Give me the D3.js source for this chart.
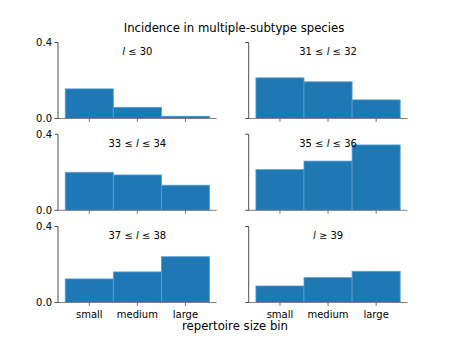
<!DOCTYPE html>
<html lang="en">
<head>
  <meta charset="utf-8">
  <script src="https://d3js.org/d3.v7.min.js"></script>
  <style>
    body { margin: 0; background: #fff; }
    svg text { font-family: "DejaVu Sans", sans-serif; fill: #000; }
    .bar { fill: #1f77b4; stroke: #5b9fd0; stroke-width: 0.8; }
  </style>
</head>
<body>
  <svg id="chart" width="454" height="342"></svg>
  <script>
    var categories = ["small", "medium", "large"];
    var panelTitles = [
      ["", "l", " \u2264 30"],
      ["31 \u2264 ", "l", " \u2264 32"],
      ["33 \u2264 ", "l", " \u2264 34"],
      ["35 \u2264 ", "l", " \u2264 36"],
      ["37 \u2264 ", "l", " \u2264 38"],
      ["", "l", " \u2265 39"]
    ];
    var panelValues = [
      [0.156, 0.059, 0.012],
      [0.214, 0.193, 0.098],
      [0.200, 0.186, 0.132],
      [0.214, 0.259, 0.344],
      [0.124, 0.161, 0.241],
      [0.087, 0.131, 0.164]
    ];
    var yTicks = [0.0, 0.4];

    var svg = d3.select("#chart");

    var colLeft = [58, 248.7], colWidth = 158.7;
    var rowTop = [42.5, 134.3, 226.5], rowHeight = 76;

    var x = d3.scaleLinear().domain([-0.65, 2.65]).range([0, colWidth]);
    var y = d3.scaleLinear().domain([0, 0.4]).range([rowHeight, 0]);

    panelValues.forEach(function(vals, i) {
      var col = i % 2, row = Math.floor(i / 2);
      var g = svg.append("g")
          .attr("transform", "translate(" + colLeft[col] + "," + rowTop[row] + ")");

      g.selectAll("rect")
          .data(vals)
        .enter().append("rect")
          .attr("class", "bar")
          .attr("x", function(d, j) { return x(j - 0.5); })
          .attr("width", x(1) - x(0))
          .attr("y", function(d) { return y(d); })
          .attr("height", function(d) { return y(0) - y(d); });

      // bottom spine + ticks
      g.append("line")
          .attr("x1", 0).attr("x2", colWidth)
          .attr("y1", rowHeight).attr("y2", rowHeight)
          .attr("stroke", "#808080").attr("stroke-width", 1);
      categories.forEach(function(c, j) {
        g.append("line")
            .attr("x1", x(j)).attr("x2", x(j))
            .attr("y1", rowHeight).attr("y2", rowHeight + 3.5)
            .attr("stroke", "#555").attr("stroke-width", 0.8);
        if (row === 2) {
          g.append("text")
              .attr("x", x(j)).attr("y", rowHeight + 15)
              .attr("text-anchor", "middle")
              .attr("font-size", 10)
              .text(c);
        }
      });

      // left spine + ticks
      g.append("line")
          .attr("x1", 0).attr("x2", 0)
          .attr("y1", 0).attr("y2", rowHeight)
          .attr("stroke", "#222").attr("stroke-width", 0.8);
      yTicks.forEach(function(t) {
        g.append("line")
            .attr("x1", -3.5).attr("x2", 0)
            .attr("y1", y(t)).attr("y2", y(t))
            .attr("stroke", "#222").attr("stroke-width", 0.8);
        if (col === 0) {
          g.append("text")
              .attr("x", -6).attr("y", y(t) + 3.5)
              .attr("text-anchor", "end")
              .attr("font-size", 10)
              .text(d3.format(".1f")(t));
        }
      });

      var tt = g.append("text")
          .attr("x", colWidth / 2).attr("y", 12.5)
          .attr("text-anchor", "middle")
          .attr("font-size", 10);
      tt.append("tspan").text(panelTitles[i][0]);
      tt.append("tspan").attr("font-style", "italic").text(panelTitles[i][1]);
      tt.append("tspan").text(panelTitles[i][2]);
    });

    svg.append("text")
        .attr("x", 234).attr("y", 32)
        .attr("text-anchor", "middle")
        .attr("font-size", 11.7)
        .text("Incidence in multiple-subtype species");

    svg.append("text")
        .attr("x", 235).attr("y", 330)
        .attr("text-anchor", "middle")
        .attr("font-size", 11.7)
        .text("repertoire size bin");
  </script>
</body>
</html>
